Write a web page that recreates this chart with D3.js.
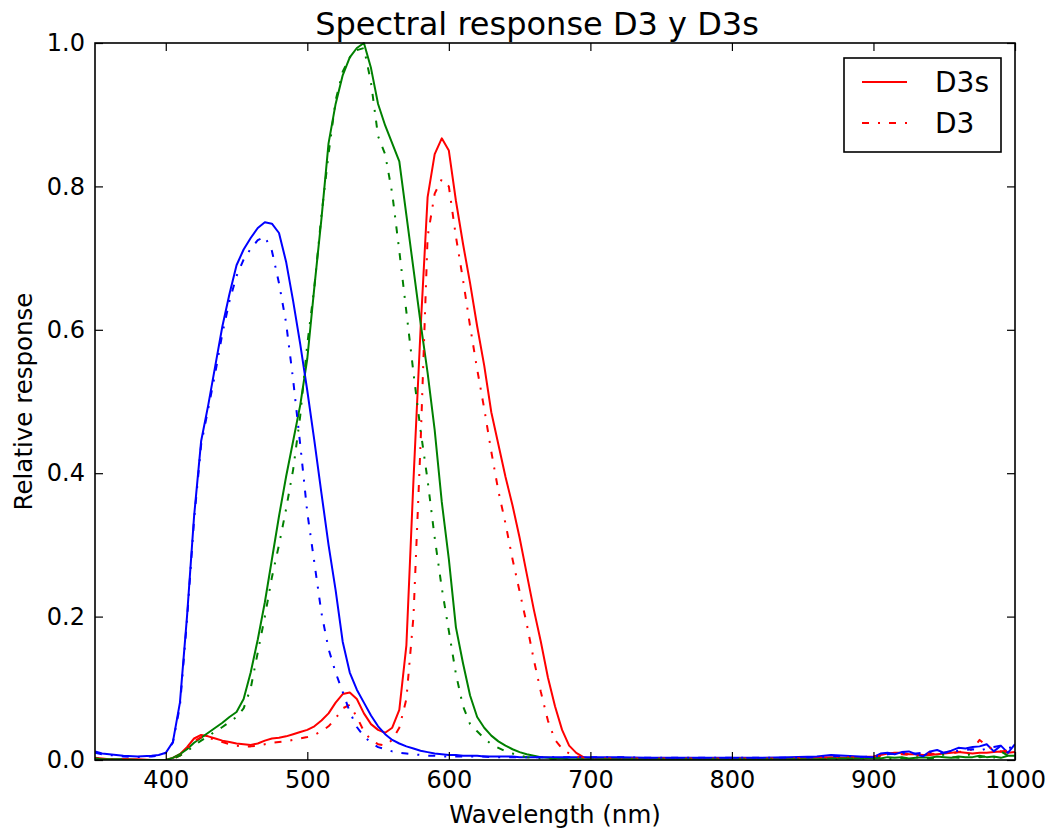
<!DOCTYPE html>
<html>
<head>
<meta charset="utf-8">
<script src="https://cdn.jsdelivr.net/npm/d3@7"></script>
<style>
  html, body { margin: 0; padding: 0; background: #fff; }
  svg { display: block; }
  text { font-family: "DejaVu Sans", sans-serif; fill: #000; }
</style>
</head>
<body>
<svg id="chart" width="1049" height="832"></svg>
<script>
// ---------------- DATA ----------------
const wavelengths = [
  350, 355, 360, 370, 380, 390, 395,
  400, 405, 410, 415, 420, 425, 430, 435, 440, 445, 450, 455, 460, 465, 470, 475, 480, 485, 490, 495,
  500, 505, 510, 515, 520, 525, 530, 535, 540, 545, 550, 555, 560, 565, 570, 575, 580, 585, 590, 595,
  600, 605, 610, 615, 620, 625, 630, 635, 640, 645, 650, 655, 660, 665, 670, 675, 680, 685, 690, 695, 700,
  710, 720, 740, 760, 780, 800, 820, 840, 860, 870, 880, 890,
  900, 905, 910, 915, 920, 925, 930, 935, 940, 945, 950, 955, 960, 965, 970, 975, 980, 985, 990, 995, 1000
];

// D3s (solid)
const d3sRed = [
  0.003, 0.002, 0.001, 0.001, 0.001, 0.000, 0.000,
  0.000, 0.003, 0.008, 0.018, 0.030, 0.035, 0.033, 0.030, 0.027, 0.025, 0.023, 0.022, 0.021, 0.023, 0.027, 0.030, 0.031, 0.033, 0.036, 0.039,
  0.042, 0.047, 0.055, 0.065, 0.080, 0.092, 0.094, 0.085, 0.065, 0.050, 0.042, 0.038, 0.045, 0.070, 0.160, 0.390, 0.600, 0.785, 0.845, 0.867,
  0.850, 0.780, 0.720, 0.665, 0.605, 0.550, 0.485, 0.440, 0.395, 0.355, 0.310, 0.260, 0.210, 0.165, 0.115, 0.075, 0.042, 0.020, 0.010, 0.004, 0.002,
  0.002, 0.002, 0.002, 0.002, 0.002, 0.002, 0.002, 0.002, 0.003, 0.004, 0.003, 0.004,
  0.005, 0.007, 0.009, 0.010, 0.010, 0.008, 0.008, 0.007, 0.007, 0.008, 0.009, 0.010, 0.011, 0.010, 0.009, 0.010, 0.010, 0.011, 0.012, 0.010, 0.011
];
const d3sGreen = [
  0.002, 0.001, 0.001, 0.001, 0.000, 0.000, 0.000,
  0.000, 0.003, 0.008, 0.015, 0.024, 0.031, 0.038, 0.045, 0.052, 0.060, 0.067, 0.085, 0.122, 0.168, 0.220, 0.280, 0.340, 0.395, 0.445, 0.495,
  0.560, 0.660, 0.755, 0.860, 0.915, 0.955, 0.980, 0.993, 1.000, 0.965, 0.915, 0.885, 0.860, 0.835, 0.760, 0.685, 0.610, 0.540, 0.460, 0.360,
  0.280, 0.185, 0.135, 0.090, 0.060, 0.045, 0.034, 0.026, 0.020, 0.015, 0.011, 0.008, 0.006, 0.004, 0.003, 0.002, 0.002, 0.001, 0.001, 0.001, 0.001,
  0.001, 0.001, 0.001, 0.001, 0.001, 0.001, 0.001, 0.001, 0.001, 0.002, 0.002, 0.002,
  0.003, 0.002, 0.004, 0.003, 0.004, 0.002, 0.003, 0.004, 0.003, 0.005, 0.004, 0.003, 0.005, 0.004, 0.004, 0.006, 0.004, 0.005, 0.003, 0.006, 0.006
];
const d3sBlue = [
  0.012, 0.009, 0.008, 0.006, 0.005, 0.006, 0.007,
  0.010, 0.025, 0.080, 0.200, 0.340, 0.445, 0.495, 0.550, 0.605, 0.650, 0.690, 0.712, 0.728, 0.742, 0.750, 0.748, 0.735, 0.695, 0.640, 0.580,
  0.515, 0.445, 0.372, 0.300, 0.237, 0.165, 0.122, 0.098, 0.080, 0.062, 0.047, 0.036, 0.028, 0.023, 0.019, 0.016, 0.013, 0.011, 0.009, 0.008,
  0.007, 0.007, 0.006, 0.006, 0.006, 0.005, 0.005, 0.005, 0.005, 0.005, 0.004, 0.004, 0.004, 0.004, 0.004, 0.004, 0.004, 0.004, 0.004, 0.004, 0.004,
  0.004, 0.004, 0.003, 0.003, 0.003, 0.003, 0.003, 0.004, 0.005, 0.007, 0.006, 0.005,
  0.004, 0.009, 0.010, 0.008, 0.011, 0.012, 0.008, 0.005, 0.012, 0.014, 0.010, 0.013, 0.017, 0.016, 0.018, 0.019, 0.022, 0.012, 0.020, 0.010, 0.022
];

// D3 (dash-dot)
const d3Red = [
  0.002, 0.001, 0.001, 0.001, 0.000, 0.000, 0.000,
  0.000, 0.002, 0.006, 0.015, 0.026, 0.032, 0.031, 0.028, 0.025, 0.022, 0.020, 0.019, 0.019, 0.020, 0.022, 0.024, 0.025, 0.026, 0.028, 0.030,
  0.032, 0.035, 0.040, 0.047, 0.058, 0.072, 0.077, 0.060, 0.040, 0.028, 0.022, 0.020, 0.028, 0.045, 0.085, 0.200, 0.440, 0.730, 0.790, 0.810,
  0.800, 0.730, 0.670, 0.605, 0.545, 0.490, 0.430, 0.375, 0.330, 0.280, 0.235, 0.190, 0.140, 0.095, 0.055, 0.028, 0.016, 0.009, 0.005, 0.003, 0.002,
  0.002, 0.002, 0.002, 0.002, 0.002, 0.002, 0.002, 0.002, 0.003, 0.003, 0.004, 0.003,
  0.004, 0.006, 0.008, 0.009, 0.008, 0.007, 0.006, 0.008, 0.009, 0.008, 0.010, 0.009, 0.011, 0.012, 0.015, 0.028, 0.020, 0.014, 0.012, 0.013, 0.011
];
const d3Green = [
  0.002, 0.001, 0.001, 0.000, 0.000, 0.000, 0.000,
  0.000, 0.002, 0.006, 0.012, 0.020, 0.027, 0.033, 0.040, 0.046, 0.053, 0.060, 0.072, 0.100, 0.150, 0.200, 0.255, 0.300, 0.350, 0.405, 0.480,
  0.580, 0.660, 0.760, 0.845, 0.920, 0.960, 0.980, 0.990, 0.993, 0.945, 0.870, 0.845, 0.790, 0.710, 0.625, 0.540, 0.460, 0.390, 0.310, 0.240,
  0.180, 0.120, 0.075, 0.050, 0.040, 0.030, 0.022, 0.017, 0.012, 0.009, 0.006, 0.004, 0.003, 0.002, 0.002, 0.001, 0.001, 0.001, 0.001, 0.001, 0.001,
  0.001, 0.001, 0.001, 0.001, 0.001, 0.001, 0.001, 0.001, 0.001, 0.001, 0.002, 0.002,
  0.002, 0.003, 0.002, 0.001, 0.003, 0.002, 0.004, 0.002, 0.002, 0.003, 0.008, 0.004, 0.003, 0.006, 0.009, 0.004, 0.005, 0.003, 0.012, 0.006, 0.004
];
const d3Blue = [
  0.010, 0.008, 0.007, 0.005, 0.004, 0.005, 0.006,
  0.010, 0.024, 0.075, 0.195, 0.335, 0.440, 0.490, 0.540, 0.595, 0.640, 0.675, 0.698, 0.713, 0.725, 0.730, 0.710, 0.665, 0.610, 0.530, 0.440,
  0.345, 0.275, 0.205, 0.155, 0.122, 0.095, 0.067, 0.046, 0.033, 0.024, 0.018, 0.015, 0.012, 0.010, 0.009, 0.008, 0.007, 0.006, 0.006, 0.005,
  0.005, 0.005, 0.005, 0.005, 0.005, 0.005, 0.004, 0.004, 0.004, 0.004, 0.004, 0.004, 0.004, 0.004, 0.004, 0.004, 0.004, 0.004, 0.004, 0.004, 0.004,
  0.004, 0.004, 0.003, 0.003, 0.003, 0.003, 0.003, 0.003, 0.004, 0.005, 0.006, 0.004,
  0.005, 0.006, 0.008, 0.009, 0.010, 0.008, 0.009, 0.010, 0.011, 0.009, 0.010, 0.012, 0.013, 0.014, 0.015, 0.013, 0.016, 0.018, 0.020, 0.017, 0.018
];

const xTicks = [400, 500, 600, 700, 800, 900, 1000];
const yTicks = [0.0, 0.2, 0.4, 0.6, 0.8, 1.0];
const legendLabels = ["D3s", "D3"];
const titleText = "Spectral response D3 y D3s";
const xLabelText = "Wavelength (nm)";
const yLabelText = "Relative response";

// ---------------- LAYOUT ----------------
const svg = d3.select("#chart");
const margin = { left: 95, top: 43, right: 1049 - 1015, bottom: 832 - 760 };
const W = 1049 - margin.left - margin.right;
const H = 832 - margin.top - margin.bottom;

const x = d3.scaleLinear().domain([350, 1000]).range([0, W]);
const y = d3.scaleLinear().domain([0, 1]).range([H, 0]);

const g = svg.append("g").attr("transform", `translate(${margin.left},${margin.top})`);

g.append("defs").append("clipPath").attr("id", "clip")
  .append("rect").attr("x", 0).attr("y", -2).attr("width", W).attr("height", H + 2);

const DASHDOT = "7,9,2,9";
const series = [
  { values: d3sRed, color: "#ff0000", dash: null },
  { values: d3sGreen, color: "#008000", dash: null },
  { values: d3sBlue, color: "#0000ff", dash: null },
  { values: d3Red, color: "#ff0000", dash: DASHDOT },
  { values: d3Green, color: "#008000", dash: DASHDOT },
  { values: d3Blue, color: "#0000ff", dash: DASHDOT }
];

const line = d3.line()
  .x((d, i) => x(wavelengths[i]))
  .y(d => y(d))
  .curve(d3.curveLinear);

const lines = g.append("g").attr("clip-path", "url(#clip)");
series.forEach(s => {
  lines.append("path")
    .datum(s.values)
    .attr("d", line)
    .attr("fill", "none")
    .attr("stroke", s.color)
    .attr("stroke-width", 2)
    .attr("stroke-linejoin", "round")
    .attr("stroke-dasharray", s.dash);
});

// ---------------- AXES ----------------
const TICK = 8;
const fmt = d3.format(".1f");

const xAxisB = d3.axisBottom(x).tickValues(xTicks).tickSize(-TICK).tickPadding(11).tickFormat(d3.format("d"));
const xAxisT = d3.axisTop(x).tickValues(xTicks).tickSize(-TICK).tickFormat("");
const yAxisL = d3.axisLeft(y).tickValues(yTicks).tickSize(-TICK).tickPadding(10).tickFormat(fmt);
const yAxisR = d3.axisRight(y).tickValues(yTicks).tickSize(-TICK).tickFormat("");

function styleAxis(sel) {
  sel.select(".domain").remove();
  sel.selectAll(".tick line").attr("stroke", "#000").attr("stroke-width", 1.2);
  sel.selectAll(".tick text").style("font-family", "'DejaVu Sans', sans-serif").style("font-size", "24px").attr("fill", "#000");
}

g.append("g").attr("transform", `translate(0,${H})`).call(xAxisB).call(styleAxis);
g.append("g").call(xAxisT).call(styleAxis);
g.append("g").call(yAxisL).call(styleAxis);
g.append("g").attr("transform", `translate(${W},0)`).call(yAxisR).call(styleAxis);

// frame
g.append("rect").attr("x", 0).attr("y", 0).attr("width", W).attr("height", H)
  .attr("fill", "none").attr("stroke", "#000").attr("stroke-width", 1.6);

// ---------------- TEXT ----------------
svg.append("text").attr("x", margin.left + W / 2 - 18).attr("y", 35)
  .attr("text-anchor", "middle").style("font-size", "32px").text(titleText);

svg.append("text").attr("x", margin.left + W / 2).attr("y", 823)
  .attr("text-anchor", "middle").style("font-size", "24.5px").text(xLabelText);

svg.append("text").attr("transform", `translate(32,${margin.top + H / 2}) rotate(-90)`)
  .attr("text-anchor", "middle").style("font-size", "24.5px").text(yLabelText);

// ---------------- LEGEND ----------------
const legend = svg.append("g").attr("transform", "translate(844,58)");
legend.append("rect").attr("width", 157).attr("height", 94)
  .attr("fill", "#fff").attr("stroke", "#000").attr("stroke-width", 1.6);
const legendItems = [
  { label: legendLabels[0], color: "#ff0000", dash: null, yy: 24 },
  { label: legendLabels[1], color: "#ff0000", dash: DASHDOT, yy: 65 }
];
legendItems.forEach(it => {
  legend.append("line").attr("x1", 18).attr("x2", 63).attr("y1", it.yy).attr("y2", it.yy)
    .attr("stroke", it.color).attr("stroke-width", 2).attr("stroke-dasharray", it.dash);
  legend.append("text").attr("x", 91).attr("y", it.yy).attr("dy", "0.36em")
    .style("font-size", "28px").text(it.label);
});
</script>
</body>
</html>
